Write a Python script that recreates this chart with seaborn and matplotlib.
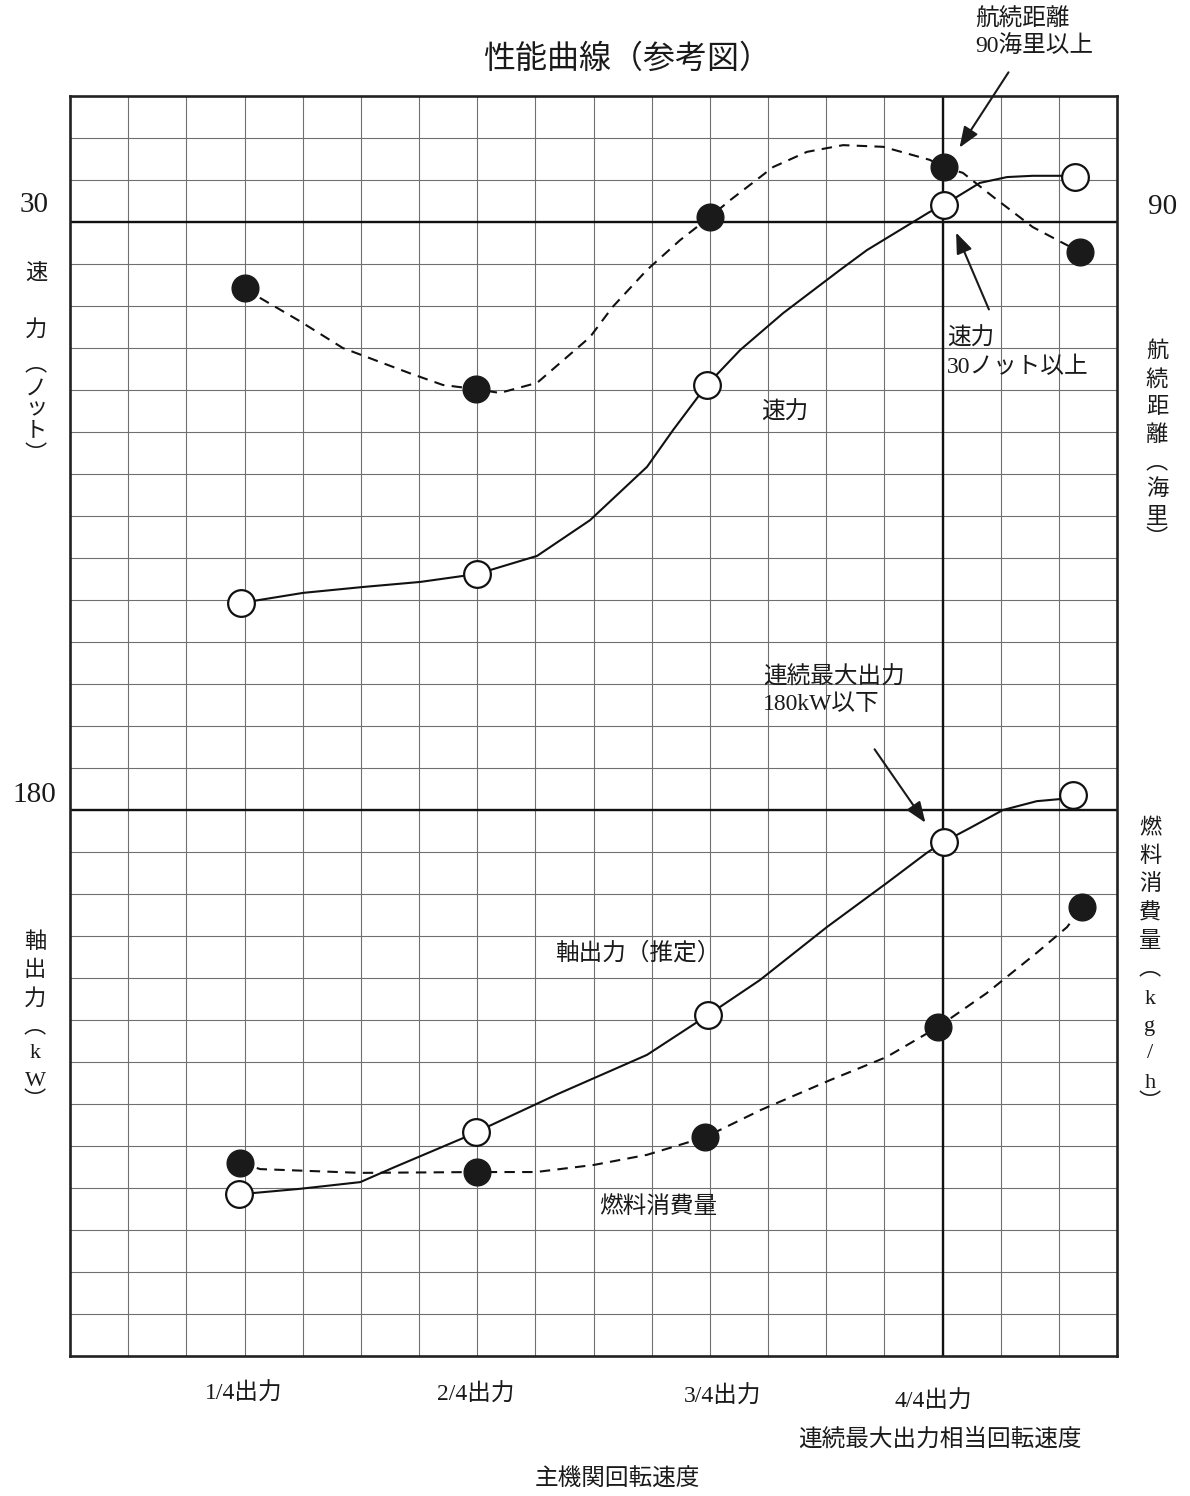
import numpy as np
import pandas as pd
import matplotlib
matplotlib.use("Agg")
import matplotlib.pyplot as plt
import seaborn as sns

W, H = 1190, 1496

# --- data (grid units: x = columns 0..18, y = rows 0..30 from bottom) ---
# 速力 (open circles, solid line)
speed_x = [2.94, 7.00, 10.95, 15.02, 17.28]
speed_y = [17.93, 18.62, 23.12, 27.40, 28.07]
speed_trace_x = [2.94, 4.01, 5.04, 6.02, 7.00, 8.03, 8.94, 9.92, 10.37, 10.95, 11.52,
                 12.26, 13.24, 13.70, 14.78, 15.02, 15.25, 15.64, 16.11, 16.55, 17.05, 17.28]
speed_trace_y = [17.93, 18.17, 18.31, 18.43, 18.62, 19.05, 19.90, 21.17, 22.05, 23.12, 23.95,
                 24.83, 25.86, 26.33, 27.24, 27.40, 27.60, 27.93, 28.07, 28.10, 28.10, 28.07]

# 航続距離 (filled circles, dashed line)
range_x = [3.01, 6.98, 11.00, 15.02, 17.36]
range_y = [25.43, 23.02, 27.12, 28.31, 26.29]
range_trace_x = [3.01, 3.27, 3.95, 4.69, 5.84, 6.41, 6.98, 7.39, 8.03, 8.94, 9.33, 9.92, 10.49,
                 11.00, 11.35, 12.09, 12.67, 13.29, 13.98, 14.78, 15.02, 15.35, 15.87, 16.55,
                 17.07, 17.36]
range_trace_y = [25.43, 25.19, 24.64, 24.00, 23.40, 23.12, 23.02, 22.93, 23.17, 24.26, 24.98,
                 25.86, 26.57, 27.12, 27.52, 28.31, 28.67, 28.83, 28.79, 28.48, 28.31, 28.17,
                 27.60, 26.88, 26.50, 26.29]

# 軸出力 (open circles, solid line)
power_x = [2.91, 6.98, 10.97, 15.02, 17.24]
power_y = [3.86, 5.33, 8.12, 12.24, 13.36]
power_trace_x = [2.91, 3.15, 3.95, 4.99, 5.55, 6.76, 6.98, 8.39, 9.92, 10.97, 11.86, 13.01,
                 14.04, 14.73, 15.02, 15.47, 16.04, 16.62, 17.02, 17.24]
power_trace_y = [3.86, 3.88, 3.98, 4.14, 4.48, 5.19, 5.33, 6.24, 7.17, 8.12, 8.95, 10.21,
                 11.26, 11.98, 12.24, 12.57, 13.00, 13.21, 13.26, 13.36]

# 燃料消費量 (filled circles, dashed line)
fuel_x = [2.92, 7.00, 10.92, 14.92, 17.40]
fuel_y = [4.60, 4.38, 5.21, 7.83, 10.69]
fuel_trace_x = [2.92, 3.27, 4.99, 7.00, 8.01, 9.01, 9.92, 10.92, 11.88, 13.07, 14.04, 14.92,
                15.76, 16.62, 17.14, 17.40]
fuel_trace_y = [4.60, 4.45, 4.36, 4.38, 4.38, 4.55, 4.79, 5.21, 5.86, 6.57, 7.12, 7.83,
                8.64, 9.60, 10.21, 10.69]

n_cols, n_rows = 18, 30
ref_rows = [27, 13]   # 30ノット / 90海里, 180kW
ref_col = 15          # 4/4出力

sns.set_style("white")
plt.rcParams['font.family'] = ['Liberation Serif', 'Noto Sans CJK JP', 'DejaVu Sans']

fig = plt.figure(figsize=(W / 100, H / 100), dpi=100)
ax = fig.add_axes([70 / W, 1 - 1356 / H, (1117 - 70) / W, (1356 - 96) / H])
ax.set_xlim(0, n_cols)
ax.set_ylim(0, n_rows)
ax.set_xticks(range(n_cols + 1))
ax.set_yticks(range(n_rows + 1))
ax.set_xticklabels([])
ax.set_yticklabels([])
ax.tick_params(length=0)
ax.grid(True, color='#707070', lw=0.8)
ax.set_axisbelow(True)
for s in ax.spines.values():
    s.set_color('#222222')
    s.set_linewidth(1.9)
for r in ref_rows:
    ax.axhline(r, color='#111111', lw=1.7, zorder=2)
ax.axvline(ref_col, color='#111111', lw=1.7, zorder=2)

dash = (0, (5, 3.5))
sns.lineplot(x=speed_trace_x, y=speed_trace_y, sort=False, estimator=None,
             color='#111111', lw=1.5, ax=ax, zorder=3)
sns.lineplot(x=range_trace_x, y=range_trace_y, sort=False, estimator=None,
             color='#111111', lw=1.5, ls=dash, ax=ax, zorder=3)
sns.lineplot(x=power_trace_x, y=power_trace_y, sort=False, estimator=None,
             color='#111111', lw=1.5, ax=ax, zorder=3)
sns.lineplot(x=fuel_trace_x, y=fuel_trace_y, sort=False, estimator=None,
             color='#111111', lw=1.5, ls=dash, ax=ax, zorder=3)

open_pts = pd.DataFrame({'x': speed_x + power_x, 'y': speed_y + power_y})
filled_pts = pd.DataFrame({'x': range_x + fuel_x, 'y': range_y + fuel_y})
sns.scatterplot(data=open_pts, x='x', y='y', s=370, color='white',
                edgecolor='#111111', linewidth=1.6, ax=ax, zorder=5)
sns.scatterplot(data=filled_pts, x='x', y='y', s=370, color='#1a1a1a',
                edgecolor='#1a1a1a', linewidth=1.0, ax=ax, zorder=5)
ax.set_xlabel('')
ax.set_ylabel('')


def fp(x, y):
    return (x / W, 1 - y / H)


def txt(x, y, s, size=17, **kw):
    fig.text(*fp(x, y), s, fontsize=size, ha=kw.pop('ha', 'center'),
             va=kw.pop('va', 'center'), color='#1a1a1a', **kw)


txt(627, 60, '性能曲線（参考図）', size=23)

# axis values
txt(34, 205, '30', size=21)
txt(1163, 207, '90', size=21)
txt(34, 795, '180', size=21)

# vertical axis titles
left_top = [('速', 274), ('力', 330), ('︵', 366), ('ノ', 390), ('ッ', 410), ('ト', 432), ('︶', 456)]
left_bot = [('軸', 943), ('出', 971), ('力', 999), ('︵', 1028), ('k', 1053), ('W', 1082), ('︶', 1102)]
right_top = [('航', 352), ('続', 380), ('距', 408), ('離', 436), ('︵', 464), ('海', 490), ('里', 518), ('︶', 541)]
right_bot = [('燃', 829), ('料', 857), ('消', 885), ('費', 914), ('量', 942), ('︵', 970),
             ('k', 999), ('g', 1027), ('/', 1053), ('h', 1083), ('︶', 1104)]
for chars, xc in [(left_top, 36), (left_bot, 35), (right_top, 1157), (right_bot, 1150)]:
    for c, yc in chars:
        txt(xc, yc, c, size=16)

# curve labels
txt(785, 413, '速力')
txt(638, 953, '軸出力（推定）')
txt(658, 1207, '燃料消費量')

# annotations (two lines each)
txt(975, 20, '航続距離', ha='left')
txt(975, 47, '90海里以上', ha='left')
txt(947, 339, '速力', ha='left')
txt(947, 367, '30ノット以上', ha='left')
txt(763, 678, '連続最大出力', ha='left')
txt(763, 705, '180kW以下', ha='left')

for tail, head in [((1010, 70), (958, 150)), ((990, 312), (955, 230)), ((873, 747), (927, 825))]:
    fig.add_artist(matplotlib.patches.FancyArrowPatch(
        fp(*tail), fp(*head), transform=fig.transFigure,
        arrowstyle='-|>,head_length=0.9,head_width=0.35', color='#1a1a1a', lw=1.5,
        mutation_scale=14))

# x labels
txt(244, 1394, '1/4出力')
txt(476, 1395, '2/4出力')
txt(723, 1397, '3/4出力')
txt(933, 1402, '4/4出力')
txt(940, 1440, '連続最大出力相当回転速度')
txt(617, 1480, '主機関回転速度')

fig.savefig('out.png', dpi=100, facecolor='white')
